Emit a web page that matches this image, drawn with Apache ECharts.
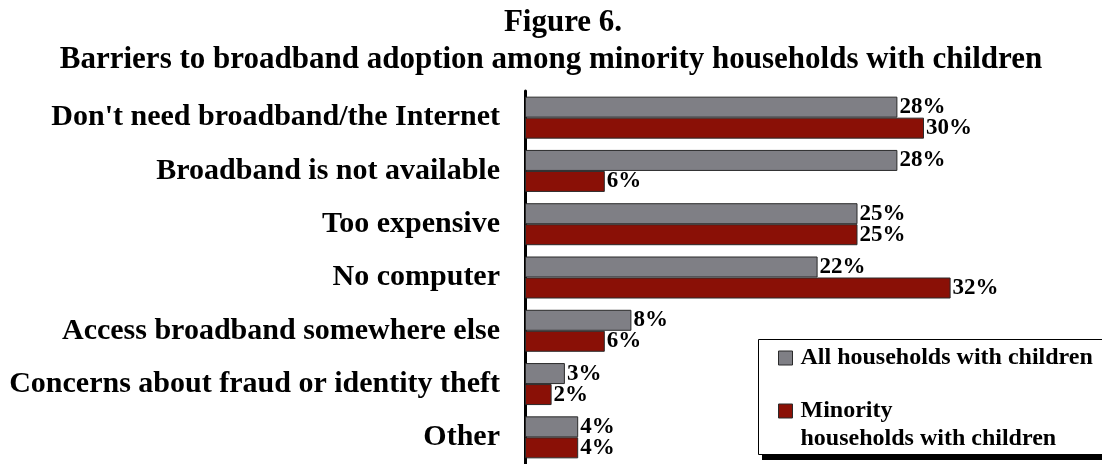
<!DOCTYPE html>
<html>
<head>
<meta charset="utf-8">
<script src="https://cdn.jsdelivr.net/npm/echarts@6/dist/echarts.min.js"></script>
<style>
html,body{margin:0;padding:0;background:#fff;}
#main{width:1102px;height:464px;}
</style>
</head>
<body>
<div id="main"></div>
<script>
// categories, top to bottom
var categories = ["Don't need broadband/the Internet", "Broadband is not available", "Too expensive",
    "No computer", "Access broadband somewhere else", "Concerns about fraud or identity theft", "Other"];
var allHouseholds = [28, 28, 25, 22, 8, 3, 4];
var minorityHouseholds = [30, 6, 25, 32, 6, 2, 4];
var seriesNames = ["All households with children", "Minority\nhouseholds with children"];

var serif = "'Liberation Serif', 'Times New Roman', serif";
var grayCol = '#7f7f85';
var redCol = '#8a1006';

var chart = echarts.init(document.getElementById('main'));

function barSeries(name, data, color){
    return {
        name: name,
        type: 'bar',
        data: data,
        barWidth: 21,
        barGap: '0%',
        itemStyle: {color: color, borderColor: '#2a2a2a', borderWidth: 1},
        label: {
            show: true,
            position: 'right',
            distance: 2,
            formatter: '{c}%',
            color: '#000',
            fontFamily: serif,
            fontWeight: 'bold',
            fontSize: 23
        }
    };
}

function legendPart(name, top, fmt){
    return {
        orient: 'vertical',
        left: 778,
        top: top,
        padding: 0,
        z: 5,
        itemWidth: 14,
        itemHeight: 14,
        itemStyle: {borderColor: '#2a2a2a', borderWidth: 1},
        icon: 'rect',
        formatter: fmt,
        textStyle: {fontFamily: serif, fontWeight: 'bold', fontSize: 24, color: '#000', lineHeight: 28, padding: [0, 0, 0, 3]},
        data: [name]
    };
}

var option = {
    animation: false,
    backgroundColor: '#fff',
    title: {
        text: '{a|Figure 6.}\nBarriers to broadband adoption among minority households with children',
        left: 'center',
        top: 4,
        padding: 0,
        textStyle: {
            fontFamily: serif,
            fontWeight: 'bold',
            fontSize: 31,
            lineHeight: 37,
            color: '#000',
            rich: {
                a: {fontFamily: serif, fontWeight: 'bold', fontSize: 31, lineHeight: 37, color: '#000', padding: [0, 0, 0, 24]}
            }
        }
    },
    // legend frame with its drop shadow (runs off the right edge)
    graphic: [{
        type: 'rect',
        shape: {x: 762, y: 343, width: 400, height: 117},
        style: {fill: '#000'},
        z: 0
    }, {
        type: 'rect',
        shape: {x: 758.5, y: 339.5, width: 400, height: 115},
        style: {fill: '#fff', stroke: '#000', lineWidth: 1},
        z: 1
    }],
    legend: [
        legendPart(seriesNames[0], 344, '{name}'),
        // empty first line keeps the icon level with "Minority"
        legendPart(seriesNames[1], 369, function(name){ return '\n' + name; })
    ],
    grid: {left: 525, top: 91, height: 376, right: 45},
    xAxis: {
        type: 'value',
        min: 0,
        max: 40,
        show: false,
        splitLine: {show: false}
    },
    yAxis: {
        type: 'category',
        inverse: true,
        data: categories,
        axisLine: {show: true, lineStyle: {color: '#000', width: 3}},
        axisTick: {show: false},
        axisLabel: {
            margin: 25,
            color: '#000',
            fontFamily: serif,
            fontWeight: 'bold',
            fontSize: 30
        }
    },
    series: [
        barSeries(seriesNames[0], allHouseholds, grayCol),
        barSeries(seriesNames[1], minorityHouseholds, redCol)
    ]
};

chart.setOption(option);
</script>
</body>
</html>
